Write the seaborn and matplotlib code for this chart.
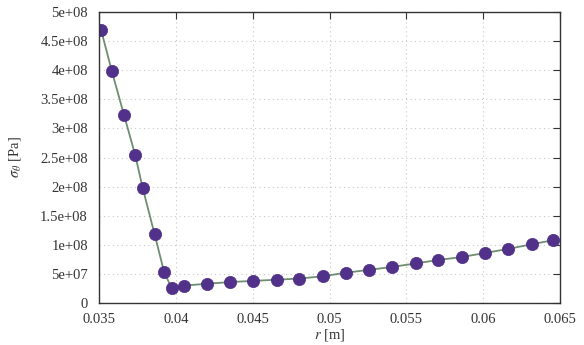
import matplotlib
matplotlib.use("Agg")
import matplotlib.pyplot as plt
import seaborn as sns
import pandas as pd
from matplotlib.ticker import FixedLocator, FixedFormatter

r_m = [0.03513, 0.03583, 0.03663, 0.03736, 0.03784, 0.03862, 0.03923, 0.03973,
       0.04053, 0.04201, 0.04352, 0.04504, 0.04656, 0.04803, 0.04956, 0.05105,
       0.05257, 0.05407, 0.05561, 0.05708, 0.05860, 0.06012, 0.06163, 0.06316, 0.06456]
sigma_pa = [4.70e8, 3.99e8, 3.23e8, 2.54e8, 1.98e8, 1.18e8, 0.54e8, 0.25e8,
            0.30e8, 0.33e8, 0.36e8, 0.38e8, 0.40e8, 0.42e8, 0.46e8, 0.52e8,
            0.57e8, 0.62e8, 0.68e8, 0.74e8, 0.79e8, 0.86e8, 0.93e8, 1.01e8, 1.08e8]

yticks = [0, 5e7, 1e8, 1.5e8, 2e8, 2.5e8, 3e8, 3.5e8, 4e8, 4.5e8, 5e8]
ylabels = ["0", "5e+07", "1e+08", "1.5e+08", "2e+08", "2.5e+08", "3e+08",
           "3.5e+08", "4e+08", "4.5e+08", "5e+08"]
xticks = [0.035, 0.04, 0.045, 0.05, 0.055, 0.06, 0.065]
xlabels = ["0.035", "0.04", "0.045", "0.05", "0.055", "0.06", "0.065"]

df = pd.DataFrame({"r": r_m, "sigma": sigma_pa})

sns.set_style("white")
plt.rcParams["font.family"] = ["Liberation Serif", "DejaVu Serif"]
plt.rcParams["mathtext.fontset"] = "stix"

fig = plt.figure(figsize=(5.84, 3.45), dpi=100)
ax = fig.add_axes([0.1695, 0.1217, 0.7895, 0.8433])

sns.lineplot(data=df, x="r", y="sigma", ax=ax, color="#6e8e70", linewidth=1.3,
             marker="o", markersize=8.8, markerfacecolor="#52318a",
             markeredgecolor="#4a2a80", markeredgewidth=0.5)

ax.set_xlim(0.035, 0.065)
ax.set_ylim(0, 5e8)
ax.xaxis.set_major_locator(FixedLocator(xticks))
ax.xaxis.set_major_formatter(FixedFormatter(xlabels))
ax.yaxis.set_major_locator(FixedLocator(yticks))
ax.yaxis.set_major_formatter(FixedFormatter(ylabels))

ax.grid(True, color="#c8c8c8", linestyle=(0, (1, 3)), linewidth=0.8)
ax.tick_params(axis="both", which="major", direction="in", length=5,
               top=True, right=True, labelsize=10.5, colors="#333333")
ax.tick_params(axis="y", pad=8)
ax.tick_params(axis="x", pad=7)
for s in ax.spines.values():
    s.set_color("#333333")
    s.set_linewidth(1.0)

ax.set_xlabel(r"$r$ [m]", fontsize=10.5, color="#333333", labelpad=1)
ax.set_ylabel(r"$\sigma_\theta$ [Pa]", fontsize=10.5, color="#333333", labelpad=12)

fig.savefig("out.png", dpi=100)
